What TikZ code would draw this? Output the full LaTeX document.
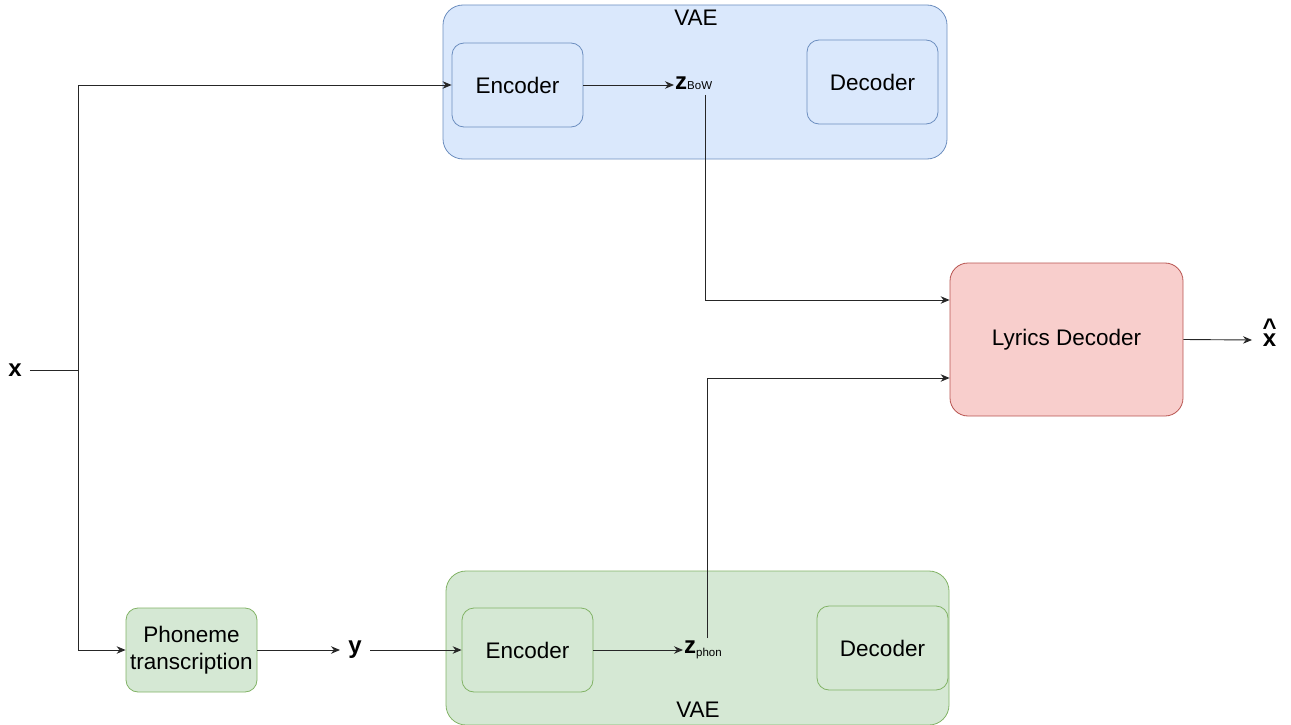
\documentclass[tikz,border=0pt]{standalone}
\usepackage{fontspec}
\setmainfont{Liberation Sans}
\usetikzlibrary{arrows.meta,calc}
\definecolor{bluefill}{HTML}{DAE8FC}
\definecolor{bluedraw}{HTML}{6C8EBF}
\definecolor{greenfill}{HTML}{D5E8D4}
\definecolor{greendraw}{HTML}{82B366}
\definecolor{redfill}{HTML}{F8CECC}
\definecolor{reddraw}{HTML}{B85450}
\tikzset{
  bigfont/.style={font=\fontsize{22.5}{27.5}\selectfont},
  container/.style={draw, rounded corners=20pt, line width=0.8pt, inner sep=0pt},
  block/.style={draw, rounded corners=12pt, line width=0.8pt, inner sep=0pt,
    minimum width=131pt, minimum height=84pt, bigfont, align=center},
  bluebox/.style={fill=bluefill, draw=bluedraw},
  greenbox/.style={fill=greenfill, draw=greendraw},
  redbox/.style={fill=redfill, draw=reddraw},
  var/.style={inner sep=1pt, font=\fontsize{24}{28}\selectfont},
  link/.style={line width=0.9pt, draw=black!85, -{Stealth[length=9pt,width=7.5pt]}},
  wire/.style={line width=0.9pt, draw=black!85}
}
\newcommand{\subtxt}[1]{{\fontsize{11.5}{12}\selectfont\mdseries #1}}
\newcommand{\hatx}{\textbf{\setbox0\hbox{x}\rlap{\hbox to\wd0{\hss\raisebox{11pt}{\^{}}\hss}}x}}
\begin{document}
\begin{tikzpicture}[x=1pt,y=-1pt]
  \useasboundingbox (0,0) rectangle (1291,725);

  % containers
  \node[container, bluebox, minimum width=504pt, minimum height=154pt] (vaetop) at (695,82) {};
  \node[bigfont, anchor=center] (vaetoplbl) at (696,18) {VAE};
  \node[container, greenbox, minimum width=503pt, minimum height=154pt] (vaebot) at (697.5,648) {};
  \node[bigfont, anchor=center] (vaebotlbl) at (698,710) {VAE};

  % blocks
  \node[block, bluebox] (enctop) at (517.5,85) {Encoder};
  \node[block, bluebox] (dectop) at (872.5,82) {Decoder};
  \node[block, greenbox] (encbot) at (527.5,650) {Encoder};
  \node[block, greenbox] (decbot) at (882.5,648) {Decoder};
  \node[block, greenbox] (phon) at (191.5,650) {Phoneme\\transcription};
  \node[block, redbox, minimum width=233pt, minimum height=153pt, rounded corners=18pt] (lyr) at (1066.5,339.5) {Lyrics Decoder};

  % variables
  \node[var, anchor=west] (zb) at (674,83) {\textbf{z}\subtxt{BoW}};
  \node[var, anchor=west] (zp) at (683,650) {\textbf{z}\raisebox{-3pt}{\subtxt{phon}}};
  \node[var] (x) at (15,370) {\textbf{x}};
  \node[var] (y) at (355,650) {\textbf{y}};
  \node[var, anchor=base] (xh) at (1269.5,346) {\hatx};

  % routing points
  \coordinate (split) at (78,370);
  \coordinate (zbdown) at (705,95);
  \coordinate (zpup) at (707,638);
  \coordinate (xhin) at (1252,340);

  % input branch
  \draw[wire] (x.east) ++(7pt,0) -- (split);
  \draw[link] (split) |- (enctop.west);
  \draw[link] (split) |- (phon.west);
  \draw[link] (phon.east) -- (phon.east -| 340,0);
  \draw[link] (370,0 |- encbot.west) -- (encbot.west);

  % encoders to latent codes
  \draw[link] (enctop.east) -- (enctop.east -| zb.west);
  \draw[link] (encbot.east) -- (encbot.east -| zp.west);

  % latent codes into the lyrics decoder
  \draw[link] (zbdown) |- (lyr.west |- 0,300);
  \draw[link] (zpup) |- (lyr.west |- 0,378);

  % output
  \draw[link] (lyr.east) -- (xhin);
\end{tikzpicture}
\end{document}
